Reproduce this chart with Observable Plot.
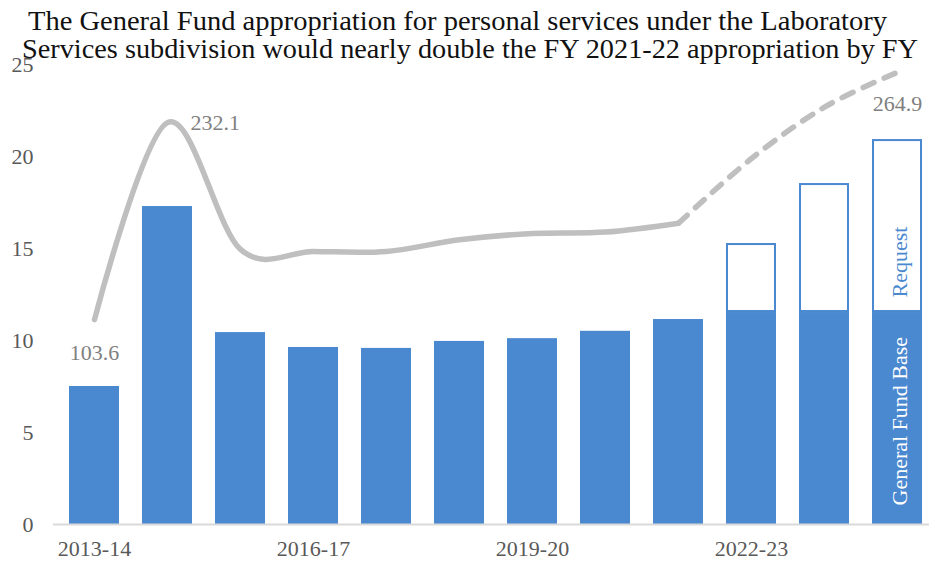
<!DOCTYPE html>
<html>
<head>
<meta charset="utf-8">
<script src="https://cdn.jsdelivr.net/npm/d3@7"></script>
<script src="https://cdn.jsdelivr.net/npm/@observablehq/plot@0.6"></script>
<style>
  html, body { margin: 0; padding: 0; background: white; overflow: hidden; }
  #wrap { position: relative; width: 929px; height: 567px; }
  #title { position: absolute; left: 0; top: 0; pointer-events: none; }
  #title text { font-family: "Liberation Serif", "Times New Roman", serif; }
</style>
</head>
<body>
<div id="wrap">
  <div id="chart"></div>
  <svg id="title" width="929" height="70" xmlns="http://www.w3.org/2000/svg">
    <text x="28" y="30" font-size="28" fill="#111" textLength="859" lengthAdjust="spacingAndGlyphs">The General Fund appropriation for personal services under the Laboratory</text>
    <text x="22" y="58" font-size="28" fill="#111" textLength="896" lengthAdjust="spacingAndGlyphs">Services subdivision would nearly double the FY 2021-22 appropriation by FY</text>
  </svg>
</div>
<script>
const years = ["2013-14","2014-15","2015-16","2016-17","2017-18","2018-19","2019-20","2020-21","2021-22","2022-23","2023-24","2024-25"];
const baseValues = [7.5, 17.28, 10.43, 9.62, 9.57, 9.95, 10.1, 10.5, 11.14, 11.52, 11.52, 11.52];
const requestValues = [0, 0, 0, 0, 0, 0, 0, 0, 0, 3.75, 7.01, 9.40];
const lineValues = [103.6, 232.1, 149.4, 148.1, 148.1, 155.7, 159.8, 160.7, 166.5, 208.7, 242.2, 264.9];
const labeledPoints = ["2013-14", "2014-15", "2024-25"];
const xTickLabels = ["2013-14", "2016-17", "2019-20", "2022-23"];
const yTicks = [0, 5, 10, 15, 20, 25];
const lineAxisMin = -30, lineAxisMax = 270; // hidden secondary axis
const yMax = 25;

const blue = "#4a88d0";
const gray = "#bfbfbf";
const labelGray = "#808080";
const serif = "'Liberation Serif', 'Times New Roman', serif";

const toPrimary = v => (v - lineAxisMin) / (lineAxisMax - lineAxisMin) * yMax;

const rows = years.map((year, i) => ({
  year, base: baseValues[i], request: requestValues[i],
  total: baseValues[i] + requestValues[i],
  line: lineValues[i], lineY: toPrimary(lineValues[i])
}));
const solidRows = rows.slice(0, 9);
const dashedRows = rows.slice(8);
const requestRows = rows.filter(d => d.request > 0);
const last = rows[rows.length - 1];

const chart = Plot.plot({
  width: 929,
  height: 567,
  marginTop: 64,
  marginBottom: 43,
  marginLeft: 53,
  marginRight: 0,
  style: { fontFamily: serif, fontSize: "22px", background: "white", color: "#595959" },
  x: { type: "band", domain: years, range: [53, 938], paddingInner: 0.31, paddingOuter: 0.155, label: null },
  y: { domain: [0, yMax], label: null },
  marks: [
    Plot.barY(rows, { x: "year", y: "base", fill: blue }),
    Plot.rectY(requestRows, { x: "year", y1: "base", y2: "total", fill: "white", stroke: blue, strokeWidth: 2, inset: 1 }),
    Plot.ruleY([0], { stroke: "#d9d9d9", strokeWidth: 2 }),
    Plot.line(solidRows, { x: "year", y: "lineY", stroke: gray, strokeWidth: 5.5, curve: "cardinal", strokeLinecap: "round" }),
    Plot.line(dashedRows, { x: "year", y: "lineY", stroke: gray, strokeWidth: 5.5, curve: "cardinal", strokeDasharray: "12,11", strokeLinecap: "round" }),
    Plot.text(rows.filter(d => d.year === labeledPoints[0]), { x: "year", y: "lineY", text: d => d.line.toFixed(1), dy: 33, fill: labelGray }),
    Plot.text(rows.filter(d => d.year === labeledPoints[1]), { x: "year", y: "lineY", text: d => d.line.toFixed(1), dx: 23, textAnchor: "start", fill: labelGray }),
    Plot.text(rows.filter(d => d.year === labeledPoints[2]), { x: "year", y: "lineY", text: d => d.line.toFixed(1), dy: 32, fill: labelGray }),
    Plot.text([last], { x: "year", y: "base", text: () => "Request", rotate: -90, textAnchor: "start", dy: -15, dx: 2, fill: blue }),
    Plot.text([last], { x: "year", y: () => 0, text: () => "General Fund Base", rotate: -90, textAnchor: "start", dy: -19, dx: 2, fill: "white" }),
    Plot.axisY({ ticks: yTicks, tickSize: 0, tickPadding: 20, fill: "#595959", label: null }),
    Plot.axisX({ ticks: xTickLabels, tickSize: 0, tickPadding: 16, fill: "#595959", label: null })
  ]
});
document.getElementById("chart").appendChild(chart);
</script>
</body>
</html>
